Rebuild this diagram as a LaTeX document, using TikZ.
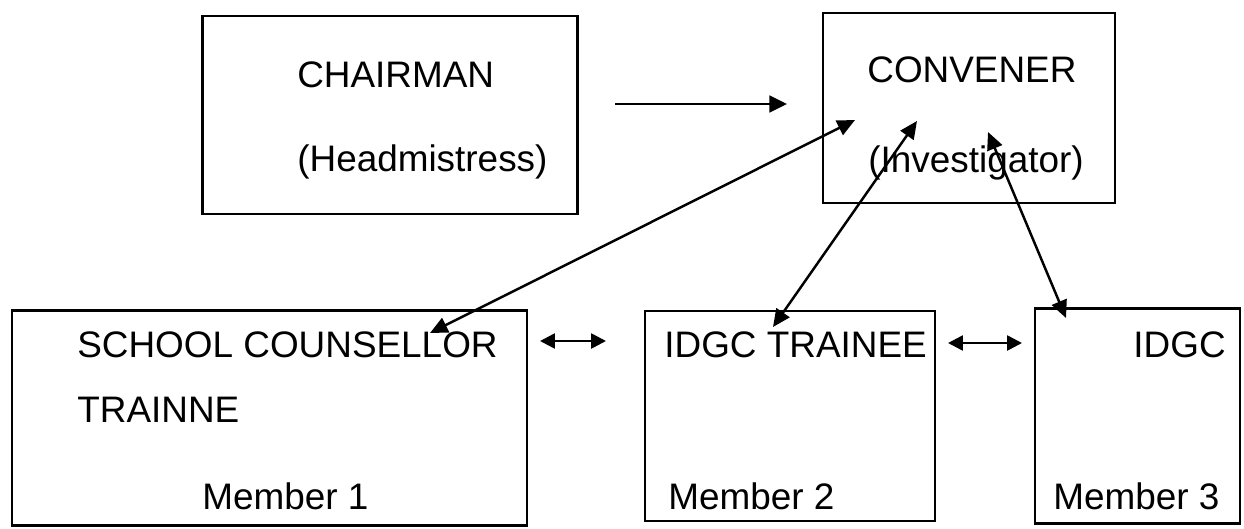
\documentclass[tikz,border=0pt]{standalone}
\usepackage{fontspec}
\setmainfont{Liberation Sans}
\usetikzlibrary{arrows.meta}
\begin{document}
\begin{tikzpicture}[x=0.02cm,y=-0.02cm,
  box/.style={draw,line width=1.5pt,rectangle,inner sep=0pt},
  lbl/.style={inner sep=0pt,font=\fontsize{21}{25}\selectfont},
  link/.style={line width=1.5pt,-{Triangle[length=10pt,width=9.5pt]}},
  both/.style={line width=1.4pt,{Triangle[length=10pt,width=9pt]}-{Triangle[length=10pt,width=9pt]}},
  pair/.style={line width=1.5pt,{Triangle[length=8.5pt,width=8.5pt]}-{Triangle[length=8.5pt,width=8.5pt]}}]
\useasboundingbox (0,0) rectangle (1244,528);

% boxes
\node[box,minimum width=7.5cm,minimum height=3.96cm] (chair) at (390,115) {};
\node[box,minimum width=5.84cm,minimum height=3.8cm] (conv) at (969,108) {};
\node[box,minimum width=10.3cm,minimum height=4.3cm] (m1) at (269.5,418) {};
\node[box,minimum width=5.8cm,minimum height=4.2cm] (m2) at (790,416) {};
\node[box,minimum width=4.1cm,minimum height=4.3cm] (m3) at (1137.5,416) {};

% labels
\node[lbl,anchor=west] (chairt) at (297,75) {CHAIRMAN};
\node[lbl,anchor=west] (chairs) at (297,162) {(Headmistress)};
\node[lbl,anchor=west] (convt) at (867,70) {CONVENER};
\node[lbl,anchor=west] (convs) at (868,163) {(Investigator)};
\node[lbl,anchor=west] (m1a) at (77,345) {SCHOOL COUNSELLOR};
\node[lbl,anchor=west] (m1b) at (77,410) {TRAINNE};
\node[lbl,anchor=west] (m1c) at (202,496) {Member 1};
\node[lbl,anchor=west] (m2a) at (664,345) {IDGC TRAINEE};
\node[lbl,anchor=west] (m2c) at (668,496) {Member 2};
\node[lbl,anchor=east] (m3a) at (1226,345) {IDGC};
\node[lbl,anchor=west] (m3c) at (1053,496) {Member 3};

% arrow end points
\coordinate (cs) at (615,104);
\coordinate (ce) at (787,104);
\coordinate (t1) at (855,120);
\coordinate (t2) at (917,121);
\coordinate (t3) at (988,132);
\coordinate (b1) at (430,333);
\coordinate (b2) at (773,327);
\coordinate (b3) at (1066,318);
\coordinate (h1) at (540,341);
\coordinate (h2) at (606,341);
\coordinate (h3) at (948,343);
\coordinate (h4) at (1022,343);

% connectors
\draw[link] (cs) -- (ce);
\draw[both] (b1) -- (t1);
\draw[both] (b2) -- (t2);
\draw[both] (b3) -- (t3);
\draw[pair] (h1) -- (h2);
\draw[pair] (h3) -- (h4);
\end{tikzpicture}
\end{document}
